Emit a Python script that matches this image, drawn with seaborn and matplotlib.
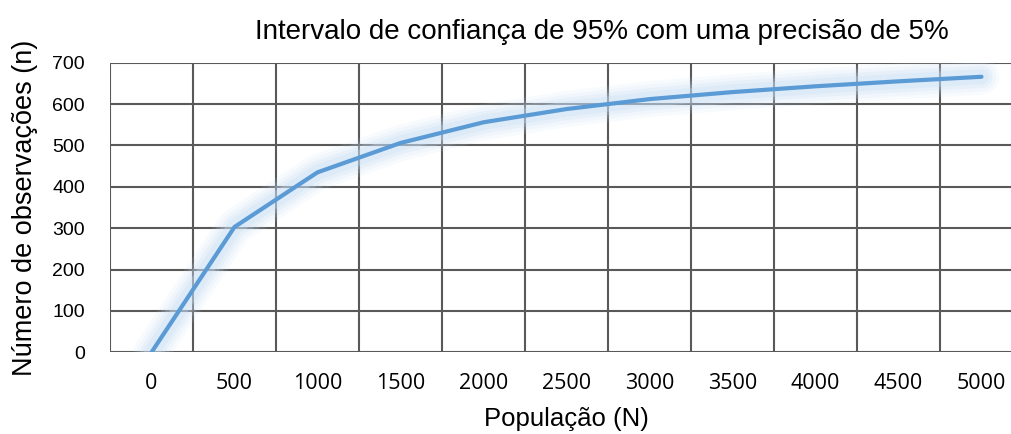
import numpy as np
import pandas as pd
import seaborn as sns
import matplotlib as mpl
mpl.use('Agg')
import matplotlib.pyplot as plt

# valores
populacao = ['0', '500', '1000', '1500', '2000', '2500', '3000', '3500', '4000', '4500', '5000']
n_obs = [0, 303, 435, 506, 556, 588, 612, 629, 643, 655, 666]
y_ticks = [0, 100, 200, 300, 400, 500, 600, 700]

titulo = 'Intervalo de confiança de 95% com uma precisão de 5%'
xlab = 'População (N)'
ylab = 'Número de observações (n)'

sns.set_style('white')
plt.rcParams['font.family'] = ['Liberation Sans', 'DejaVu Sans']
plt.rcParams['text.color'] = 'black'
plt.rcParams['axes.labelcolor'] = 'black'
plt.rcParams['xtick.color'] = 'black'
plt.rcParams['ytick.color'] = 'black'

df = pd.DataFrame({'N': populacao, 'n': n_obs})

fig = plt.figure(figsize=(10.12, 4.34), dpi=100)
ax = fig.add_axes([110 / 1012, 0.1882, 913 / 1012, 0.6673])

line_col = '#5B9BD5'
# brilho suave em volta da linha
for lw, a in [(26, 0.12), (21, 0.16), (16, 0.22), (11, 0.3)]:
    sns.lineplot(data=df, x='N', y='n', ax=ax, color='#C9DFF5', lw=lw,
                 alpha=a, solid_capstyle='round', solid_joinstyle='round')
sns.lineplot(data=df, x='N', y='n', ax=ax, color=line_col, lw=3,
             solid_capstyle='round', solid_joinstyle='round')

ax.set_ylim(0, 700)
ax.set_xlim(-0.5, len(populacao) - 0.5)
ax.set_yticks(y_ticks)
ax.set_xticks(range(len(populacao)))
ax.set_xticklabels(populacao, fontfamily='Open Sans', fontsize=15.5)
ax.tick_params(axis='y', labelsize=14, length=0, pad=18)
ax.tick_params(axis='x', length=0, pad=15)

# grade: horizontais nos ticks, verticais entre categorias
grid_col = '#595959'
for yv in y_ticks:
    ax.axhline(yv, color=grid_col, lw=1.5, zorder=0)
for xv in np.arange(-0.5, len(populacao), 1.0):
    ax.axvline(xv, color=grid_col, lw=1.5, zorder=0)
for s in ax.spines.values():
    s.set_visible(False)

ax.set_xlabel(xlab, fontsize=18.5, labelpad=9)
ax.set_ylabel(ylab, fontsize=19.5, labelpad=10)
fig.text(602 / 1012, 1 - 32 / 434, titulo, ha='center', va='center', fontsize=20)

fig.savefig('out.png', dpi=100)
